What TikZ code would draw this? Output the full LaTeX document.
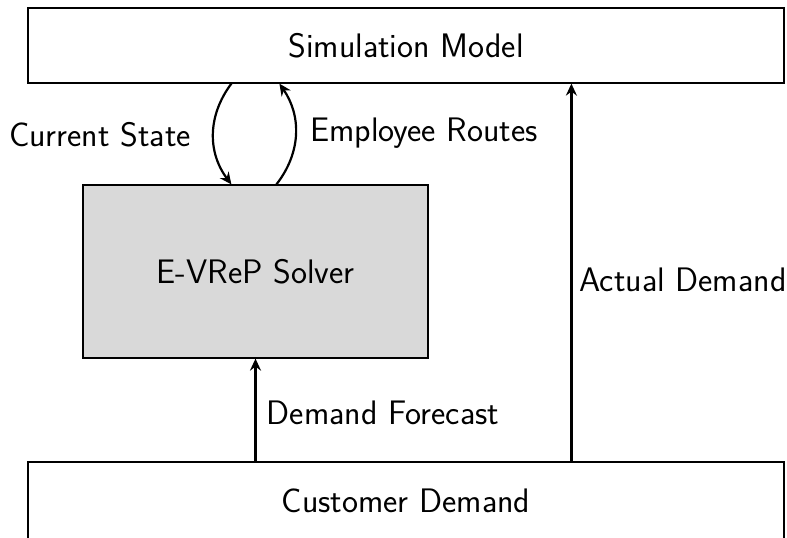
\documentclass[tikz,border=0pt]{standalone}
\usetikzlibrary{calc,arrows.meta}
\begin{document}
\begin{tikzpicture}[x=0.5pt,y=-0.5pt,
  font=\sffamily\fontsize{17}{20}\selectfont,
  box/.style={draw=black,line width=0.6pt,inner sep=0pt},
  flow/.style={draw=black,line width=1.1pt,-{Stealth[length=6pt,width=5.5pt,inset=2pt]}},
  lbl/.style={inner sep=0pt}]
\useasboundingbox (0,0) rectangle (787,537);
\begin{scope}
\clip (0,0) rectangle (787,537);
% main blocks
\node[box,minimum width=378pt,minimum height=37.5pt] (sim) at (406,45.5) {Simulation Model};
\node[box,fill=gray!30,minimum width=172.5pt,minimum height=86.5pt] (solver) at (255.5,271.5) {E-VReP Solver};
\node[box,minimum width=378pt,minimum height=39pt] (cust) at (406,501) {Customer Demand};
\end{scope}
% exchange between simulation and solver
\coordinate (s1) at ($(sim.south west)+(204,0)$);
\coordinate (v1) at ($(solver.north west)+(149,0)$);
\coordinate (v2) at ($(solver.north west)+(194,0)$);
\coordinate (s2) at ($(sim.south west)+(252,0)$);
\draw[flow] (s1) .. controls +(-24,32) and +(-24,-32) .. (v1);
\draw[flow] (v2) .. controls +(25,-32) and +(22,32) .. (s2);
\node[lbl] (cs) at (100,135) {Current State};
\node[lbl] (er) at (424,133) {Employee Routes};
% demand inputs
\draw[flow] (cust.north -| solver.south) -- (solver.south);
\coordinate (ad) at ($(cust.north west)+(544,0)$);
\draw[flow] (ad) -- (ad |- sim.south);
\node[lbl] (df) at (383,413) {Demand Forecast};
\node[lbl] (adl) at (683,280) {Actual Demand};
\end{tikzpicture}
\end{document}
